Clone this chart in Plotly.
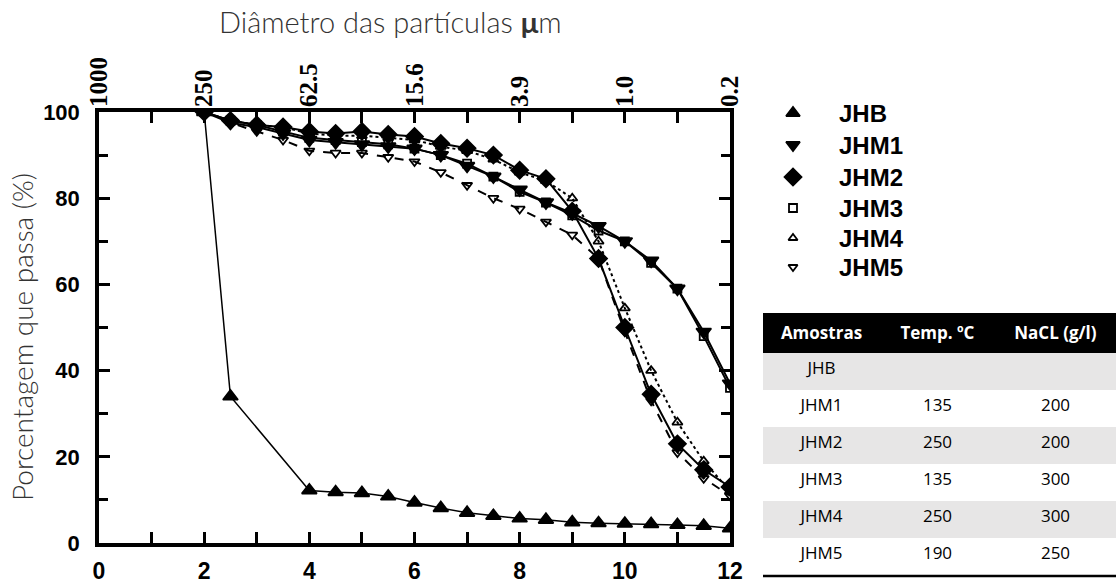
import plotly.graph_objects as go

W, H = 1116, 583

# ---------------- data ----------------
x_jhb = [2, 2.5, 4, 4.5, 5, 5.5, 6, 6.5, 7, 7.5, 8, 8.5, 9, 9.5, 10, 10.5, 11, 11.5, 12]
jhb = [100, 34, 12.2, 11.8, 11.6, 10.8, 9.4, 8.1, 7.0, 6.3, 5.7, 5.4, 4.8, 4.6, 4.5, 4.4, 4.2, 4.0, 3.4]

x_m = [2, 2.5, 3, 3.5, 4, 4.5, 5, 5.5, 6, 6.5, 7, 7.5, 8, 8.5, 9, 9.5, 10, 10.5, 11, 11.5, 12]
jhm1 = [100, 97.5, 96.5, 95.0, 93.5, 93.0, 92.5, 92.0, 91.5, 90.0, 87.5, 85.0, 82.0, 79.0, 76.5, 73.5, 70.0, 65.5, 59.0, 49.0, 37.0]
jhm2 = [100, 98.0, 97.0, 96.5, 95.5, 95.0, 95.5, 94.8, 94.3, 92.7, 91.6, 90.0, 86.5, 84.5, 77.0, 66.0, 50.0, 34.5, 23.0, 17.0, 13.0]
jhm3 = [100, 98.0, 97.0, 95.5, 94.0, 93.5, 93.0, 92.5, 91.5, 90.0, 88.0, 85.0, 81.5, 79.0, 76.0, 72.5, 70.0, 65.0, 59.0, 48.0, 36.0]
jhm4 = [100, 98.0, 97.0, 96.5, 95.0, 94.5, 94.5, 94.0, 93.5, 92.0, 91.0, 89.0, 86.0, 84.0, 80.0, 70.0, 54.5, 40.0, 28.0, 19.0, 12.0]
jhm5 = [100, 97.5, 95.5, 93.5, 91.0, 90.5, 90.5, 89.5, 88.5, 86.0, 83.0, 80.0, 77.5, 74.5, 71.5, 66.0, 49.0, 33.0, 21.0, 15.0, 11.0]

series_names = ["JHB", "JHM1", "JHM2", "JHM3", "JHM4", "JHM5"]

bottom_ticks = [0, 2, 4, 6, 8, 10, 12]
top_tick_text = ["1000", "250", "62.5", "15.6", "3.9", "1.0", "0.2"]
y_ticks = [0, 20, 40, 60, 80, 100]

table_header = ["Amostras", "Temp. ºC", "NaCL (g/l)"]
table_amostras = ["JHB", "JHM1", "JHM2", "JHM3", "JHM4", "JHM5"]
table_temp = ["", "135", "250", "135", "250", "190"]
table_nacl = ["", "200", "200", "300", "300", "250"]

# ---------------- layout geometry (pixels) ----------------
PL, PR, PT, PB = 99, 730, 112, 543
def px(v):
    return v / W
def py(v):
    return 1 - v / H

styles = {
    "JHB":  dict(symbol="triangle-up", size=13, dash="solid", lw=1.5),
    "JHM1": dict(symbol="triangle-down", size=13, dash="solid", lw=2),
    "JHM2": dict(symbol="diamond", size=13, dash="solid", lw=2),
    "JHM3": dict(symbol="square-open", size=8, dash="solid", lw=2),
    "JHM4": dict(symbol="triangle-up-open", size=9, dash="dot", lw=2),
    "JHM5": dict(symbol="triangle-down-open", size=9, dash="dash", lw=2),
}
data_map = {"JHB": (x_jhb, jhb), "JHM1": (x_m, jhm1), "JHM2": (x_m, jhm2),
            "JHM3": (x_m, jhm3), "JHM4": (x_m, jhm4), "JHM5": (x_m, jhm5)}

fig = go.Figure()
for name in ["JHM5", "JHM3", "JHM1", "JHM4", "JHM2", "JHB"]:
    xs, ys = data_map[name]
    st = styles[name]
    fig.add_trace(go.Scatter(
        x=xs, y=ys, mode="lines+markers", name=name, showlegend=False,
        line=dict(color="black", width=st["lw"], dash=st["dash"]),
        marker=dict(symbol=st["symbol"], size=st["size"], color="black",
                    line=dict(color="black", width=1.8)),
        xaxis="x", yaxis="y",
    ))

# invisible trace so the top (particle diameter) axis is drawn
fig.add_trace(go.Scatter(x=[bottom_ticks[0], bottom_ticks[-1]], y=[y_ticks[0], y_ticks[0]],
                         mode="markers", marker=dict(opacity=0), hoverinfo="skip",
                         showlegend=False, xaxis="x2", yaxis="y"))

# custom legend (helper pixel axis)
leg_y = [113, 145, 177, 208, 238, 267]
leg_sizes = {"JHB": 12, "JHM1": 12, "JHM2": 13, "JHM3": 8, "JHM4": 8, "JHM5": 8}
for name, yy in zip(series_names, leg_y):
    fig.add_trace(go.Scatter(
        x=[793], y=[yy], mode="markers", showlegend=False, hoverinfo="skip",
        marker=dict(symbol=styles[name]["symbol"], size=leg_sizes[name], color="black",
                    line=dict(color="black", width=1.8)),
        xaxis="x3", yaxis="y3",
    ))
    fig.add_annotation(x=837, y=yy, xref="x3", yref="y3", text="<b>%s</b>" % name,
                       showarrow=False, xanchor="left", yanchor="middle",
                       font=dict(family="Liberation Sans, Arial", size=24, color="black"))

# table
row_fill = ["#e7e6e6" if i % 2 == 0 else "white" for i in range(len(table_amostras))]
fig.add_trace(go.Table(
    domain=dict(x=[px(763), 1.0], y=[py(577), py(313)]),
    columnwidth=[117, 115, 121],
    header=dict(values=["<b>%s</b>" % h for h in table_header],
                fill_color="black", line=dict(width=0, color="black"),
                font=dict(family="Open Sans", size=17, color="white"),
                align="center", height=40),
    cells=dict(values=[table_amostras, table_temp, table_nacl],
               fill_color=[row_fill] * 3, line=dict(width=0, color="white"),
               font=dict(family="Open Sans", size=17, color="black"),
               align="center", height=37),
))

fig.add_shape(type="line", xref="paper", yref="paper",
              x0=px(763), x1=1.0, y0=py(576), y1=py(576),
              line=dict(color="black", width=2.5))

axis_font = dict(family="Liberation Sans, Arial", size=23, color="black")
fig.update_layout(
    width=W, height=H,
    margin=dict(l=0, r=0, t=0, b=0),
    paper_bgcolor="white", plot_bgcolor="rgba(0,0,0,0)",
    showlegend=False,
    xaxis=dict(domain=[px(PL), px(PR)], range=[0, 12], tickvals=bottom_ticks,
               ticktext=["<b>%d</b>" % v for v in bottom_ticks],
               ticks="inside", ticklen=11, tickwidth=2.5, tickcolor="black",
               minor=dict(dtick=1, ticks="inside", ticklen=11, tickwidth=2.5, tickcolor="black"),
               showline=True, linewidth=3.5, linecolor="black", mirror="ticks",
               showgrid=False, zeroline=False, tickfont=axis_font,
               ticklabelstandoff=5, automargin=False),
    xaxis2=dict(domain=[px(PL), px(PR)], range=[0, 12], overlaying="x", side="top",
                anchor="y", tickvals=bottom_ticks,
                ticktext=["<b>%s</b>" % t for t in top_tick_text],
                tickangle=-90, ticks="", showline=False, showgrid=False, zeroline=False,
                tickfont=dict(family="Liberation Serif, Times New Roman", size=25, color="black"),
                ticklabelstandoff=4, automargin=False),
    yaxis=dict(domain=[py(PB), py(PT)], range=[0, 100], tickvals=y_ticks,
               ticktext=["<b>%d</b>" % v for v in y_ticks],
               ticks="inside", ticklen=11, tickwidth=2.5, tickcolor="black",
               minor=dict(dtick=10, ticks="inside", ticklen=9, tickwidth=2.5, tickcolor="black"),
               showline=True, linewidth=3.5, linecolor="black", mirror="ticks",
               showgrid=False, zeroline=False, tickfont=dict(family="Liberation Sans, Arial", size=22, color="black"),
               ticklabelstandoff=11, automargin=False),
    xaxis3=dict(domain=[0, 1], range=[0, W], visible=False, fixedrange=True),
    yaxis3=dict(domain=[0, 1], range=[H, 0], visible=False, fixedrange=True, anchor="x3"),
)

fig.add_annotation(x=px(22), y=py(337), xref="paper", yref="paper",
                   xanchor="center", yanchor="middle",
                   text="Porcentagem que passa (%)", textangle=-90, showarrow=False,
                   font=dict(family="Lato", size=28, color="#333333", weight=300))
fig.add_annotation(x=px(390), y=py(22), xref="paper", yref="paper",
                   xanchor="center", yanchor="middle",
                   text="Diâmetro das partículas <b>μ</b>m", showarrow=False,
                   font=dict(family="Lato", size=29, color="#333333", weight=300))

fig.write_html("out.html")
